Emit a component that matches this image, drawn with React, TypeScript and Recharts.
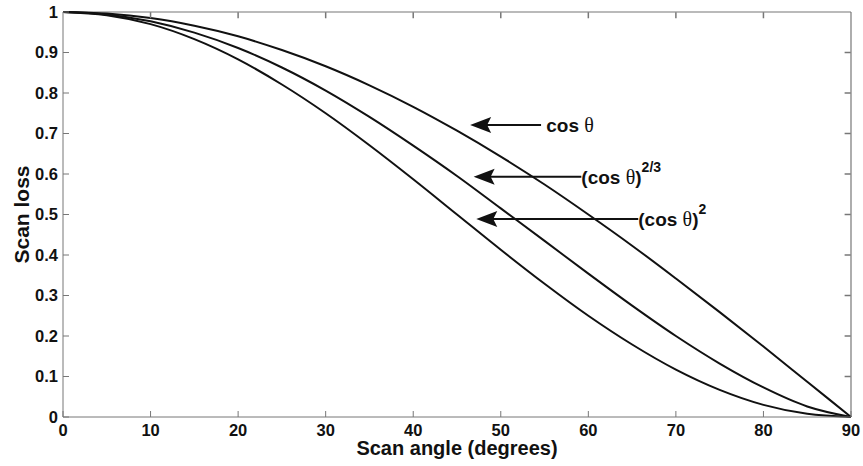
import * as React from 'react';
import { LineChart, Line, XAxis, YAxis, CartesianGrid, ReferenceLine, ReferenceDot } from 'recharts';

// scan angle in degrees
const angles = [0, 5, 10, 15, 20, 25, 30, 35, 40, 45, 50, 55, 60, 65, 70, 75, 80, 85, 90];
// top curve, labelled "cos θ"
const cosTheta = [1, 0.996, 0.985, 0.966, 0.94, 0.906, 0.866, 0.819, 0.766, 0.707, 0.643, 0.574, 0.5, 0.423, 0.342, 0.259, 0.174, 0.087, 0];
// middle curve, labelled "(cos θ)^2/3"
const cosThetaMid = [1, 0.994, 0.977, 0.949, 0.911, 0.863, 0.806, 0.741, 0.67, 0.595, 0.515, 0.435, 0.354, 0.275, 0.2, 0.132, 0.073, 0.026, 0];
// bottom curve, labelled "(cos θ)^2"
const cosThetaSq = [1, 0.992, 0.97, 0.933, 0.883, 0.821, 0.75, 0.671, 0.587, 0.5, 0.413, 0.329, 0.25, 0.179, 0.117, 0.067, 0.03, 0.008, 0];

const xTicks = [0, 10, 20, 30, 40, 50, 60, 70, 80, 90];
const yTicks = [0, 0.1, 0.2, 0.3, 0.4, 0.5, 0.6, 0.7, 0.8, 0.9, 1];

// arrows: tip angle, loss level, tail angle, text start angle
const notes = [
  { sup: '', paren: false, tip: 46.5, y: 0.721, tail: 54.6, text: 55.2 },
  { sup: '2/3', paren: true, tip: 46.9, y: 0.593, tail: 59.2, text: 59.2 },
  { sup: '2', paren: true, tip: 47.2, y: 0.489, tail: 65.7, text: 65.7 },
];

const data = angles.map((a, i) => ({
  angle: a,
  cos: cosTheta[i],
  mid: cosThetaMid[i],
  sq: cosThetaSq[i],
}));

const FONT = '"Liberation Sans", Arial, sans-serif';
const AXIS = '#777';
const tickStyle = { fill: '#111', fontSize: 16.5, fontWeight: 700, fontFamily: FONT };
// top / right frame ticks sit a hair inside the domain
const TOP = 0.9995;
const RIGHT = 89.97;
// inward tick length of the top / right frame, in data units (~6px)
const TICK_Y = 0.015;
const TICK_X = 0.7;

function ArrowHead(props: any) {
  const { cx, cy } = props;
  if (cx == null || cy == null) return null;
  return <polygon points={`${cx},${cy} ${cx + 21},${cy - 8} ${cx + 17},${cy} ${cx + 21},${cy + 8}`} fill="#111" />;
}

function NoteText(note: (typeof notes)[number]) {
  return (props: any) => {
    const { cx, cy } = props;
    if (cx == null || cy == null) return null;
    return (
      <text x={cx} y={cy + 7} fill="#111" fontSize={19} fontWeight={700} fontFamily={FONT}>
        {note.paren ? '(' : ''}
        {'cos '}
        <tspan fontFamily='"Liberation Serif", serif' fontWeight={400} fontSize={20}>θ</tspan>
        {note.paren ? ')' : ''}
        {note.sup ? (
          <tspan dy={-12} fontSize={14}>
            {note.sup}
          </tspan>
        ) : null}
      </text>
    );
  };
}

function XTitle(props: any) {
  const vb = props.viewBox;
  return (
    <text x={vb.x + vb.width / 2} y={vb.y + 38} textAnchor="middle" fill="#111" fontSize={20} fontWeight={700} fontFamily={FONT}>
      Scan angle (degrees)
    </text>
  );
}

function YTitle(props: any) {
  const vb = props.viewBox;
  const x = vb.x + 21;
  const y = vb.y + vb.height / 2;
  return (
    <text x={x} y={y} transform={`rotate(-90 ${x} ${y})`} textAnchor="middle" dominantBaseline="central" fill="#111" fontSize={21} fontWeight={700} fontFamily={FONT}>
      Scan loss
    </text>
  );
}

// frame: one grid line along the top edge and one along the right edge of the plot
const topEdge = (p: any) => [p?.offset?.top ?? 12];
const rightEdge = (p: any) => [(p?.offset?.left ?? 63) + (p?.offset?.width ?? 788)];

export default function App() {
  return (
    <div style={{ position: 'absolute', left: 0, top: 0, width: 863, height: 466, background: '#fff' }}>
      <LineChart width={863} height={466} data={data} margin={{ top: 12, right: 12, left: 0, bottom: 0 }}>
        <CartesianGrid
          stroke={AXIS}
          strokeWidth={1.2}
          fill="none"
          horizontalCoordinatesGenerator={topEdge}
          verticalCoordinatesGenerator={rightEdge}
        />
        <XAxis
          dataKey="angle"
          type="number"
          domain={[0, 90]}
          ticks={xTicks}
          height={49}
          tick={tickStyle}
          tickSize={-6}
          tickMargin={13}
          stroke={AXIS}
          interval={0}
          label={<XTitle />}
        />
        <YAxis
          type="number"
          domain={[0, 1]}
          ticks={yTicks}
          width={63}
          tick={tickStyle}
          tickSize={-6}
          tickMargin={11}
          stroke={AXIS}
          interval={0}
          label={<YTitle />}
        />
        <Line type="monotone" dataKey="cos" stroke="#111" strokeWidth={2} dot={false} isAnimationActive={false} />
        <Line type="monotone" dataKey="mid" stroke="#111" strokeWidth={2} dot={false} isAnimationActive={false} />
        <Line type="monotone" dataKey="sq" stroke="#111" strokeWidth={2} dot={false} isAnimationActive={false} />
        {xTicks.slice(1, -1).map((t) => (
          <ReferenceLine key={'tx' + t} segment={[{ x: t, y: TOP }, { x: t, y: TOP - TICK_Y }]} stroke={AXIS} strokeWidth={1.5} />
        ))}
        {yTicks.slice(1, -1).map((t) => (
          <ReferenceLine key={'ty' + t} segment={[{ x: RIGHT, y: t }, { x: RIGHT - TICK_X, y: t }]} stroke={AXIS} strokeWidth={1.5} />
        ))}
        {notes.map((n, i) => (
          <ReferenceLine
            key={'l' + i}
            segment={[
              { x: n.tip + 1.5, y: n.y },
              { x: n.tail, y: n.y },
            ]}
            stroke="#111"
            strokeWidth={2}
          />
        ))}
        {notes.map((n, i) => (
          <ReferenceDot key={'a' + i} x={n.tip} y={n.y} shape={ArrowHead} />
        ))}
        {notes.map((n, i) => (
          <ReferenceDot key={'t' + i} x={n.text} y={n.y} shape={NoteText(n)} />
        ))}
      </LineChart>
    </div>
  );
}
